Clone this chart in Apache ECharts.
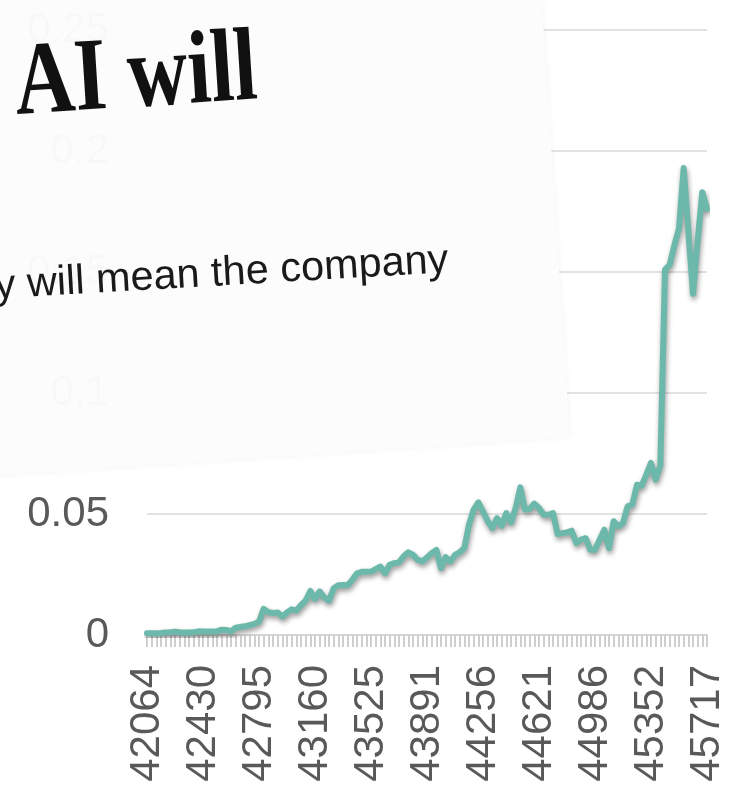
<!DOCTYPE html>
<html>
<head>
<meta charset="utf-8">
<script src="https://cdn.jsdelivr.net/npm/echarts@6/dist/echarts.min.js"></script>
<style>html,body{margin:0;padding:0;background:#fff}#c{width:743px;height:785px}</style>
</head>
<body>
<div id="c"></div>
<script>
// Excel serial dates (first of each month, Mar 2015 - Mar 2025)
var categories = [
42064,42095,42125,42156,42186,42217,42248,42278,42309,42339,
42370,42401,42430,42461,42491,42522,42552,42583,42614,42644,42675,42705,
42736,42767,42795,42826,42856,42887,42917,42948,42979,43009,43040,43070,
43101,43132,43160,43191,43221,43252,43282,43313,43344,43374,43405,43435,
43466,43497,43525,43556,43586,43617,43647,43678,43709,43739,43770,43800,
43831,43862,43891,43922,43952,43983,44013,44044,44075,44105,44136,44166,
44197,44228,44256,44287,44317,44348,44378,44409,44440,44470,44501,44531,
44562,44593,44621,44652,44682,44713,44743,44774,44805,44835,44866,44896,
44927,44958,44986,45017,45047,45078,45108,45139,45170,45200,45231,45261,
45292,45323,45352,45383,45413,45444,45474,45505,45536,45566,45597,45627,
45658,45689,45717
];
var values = [
0.0007,0.0007,0.0007,0.0008,0.0010,0.0011,0.0014,0.0011,0.0010,0.0010,
0.0011,0.0015,0.0014,0.0014,0.0014,0.0015,0.0022,0.0021,0.0015,0.0030,
0.0033,0.0036,0.0041,0.0046,0.0055,0.0108,0.0094,0.0091,0.0093,0.0076,
0.0093,0.0106,0.0101,0.0124,0.0142,0.0182,0.0149,0.0180,0.0155,0.0142,
0.0193,0.0206,0.0207,0.0206,0.0228,0.0255,0.0261,0.0261,0.0262,0.0272,
0.0283,0.0255,0.0290,0.0297,0.0300,0.0325,0.0342,0.0331,0.0311,0.0304,
0.0320,0.0338,0.0352,0.0276,0.0322,0.0304,0.0331,0.0342,0.0359,0.0456,
0.0518,0.0548,0.0511,0.0470,0.0442,0.0483,0.0452,0.0504,0.0465,0.0525,
0.0610,0.0518,0.0521,0.0543,0.0525,0.0497,0.0497,0.0504,0.0417,0.0421,
0.0424,0.0431,0.0380,0.0394,0.0400,0.0352,0.0352,0.0394,0.0435,0.0359,
0.0470,0.0449,0.0463,0.0532,0.0539,0.0621,0.0617,0.0663,0.0711,0.0642,
0.0700,0.1510,0.1530,0.1610,0.1680,0.1930,0.1670,0.1410,0.1630,0.1830,
0.1760
];
var yTicks = {min: 0, max: 0.25, interval: 0.05};
var headline = 'AI will';
var subline = 'y will mean the company';

var chart = echarts.init(document.getElementById('c'), null, {renderer: 'canvas'});
chart.setOption({
  animation: false,
  backgroundColor: '#ffffff',
  grid: {left: 147, right: 36, top: 30, bottom: 150, containLabel: false},
  xAxis: {
    type: 'category',
    data: categories,
    boundaryGap: false,
    axisLine: {show: true, lineStyle: {color: '#d6d6d6', width: 2}},
    axisTick: {show: true, interval: 0, length: 12, lineStyle: {color: '#cfcfcf', width: 2}},
    axisLabel: {interval: 11, rotate: 90, margin: 30, fontSize: 42, color: '#595959', fontFamily: '"Liberation Sans", Arial, sans-serif'},
    splitLine: {show: false}
  },
  yAxis: {
    type: 'value',
    min: yTicks.min, max: yTicks.max, interval: yTicks.interval,
    axisLine: {show: false},
    axisTick: {show: false},
    axisLabel: {margin: 38, fontSize: 42, color: '#595959', fontFamily: '"Liberation Sans", Arial, sans-serif'},
    splitLine: {show: true, lineStyle: {color: '#d9d9d9', width: 1.5}}
  },
  series: [{
    type: 'line',
    data: values,
    showSymbol: false,
    lineStyle: {color: '#6cb9ac', width: 6, join: 'round', cap: 'round',
      shadowColor: 'rgba(0,0,0,0.4)', shadowBlur: 5, shadowOffsetX: 1, shadowOffsetY: 3},
    itemStyle: {color: '#6cb9ac'}
  }],
  graphic: [
    {type: 'polygon', z: 100, silent: true,
     shape: {points: [[-10, -10], [541, -10], [570, 437], [-10, 476]]},
     style: {fill: 'rgba(252,252,252,0.98)', shadowBlur: 6, shadowColor: 'rgba(0,0,0,0.05)'}},
    {type: 'text', z: 101, silent: true, x: 18, y: 139, rotation: 0.064, scaleX: 0.8, scaleY: 1,
     style: {text: headline, fontSize: 104, fontWeight: 'bold', fontFamily: '"Liberation Serif", "DejaVu Serif", serif',
       fill: '#111111', textAlign: 'left', verticalAlign: 'bottom'}},
    {type: 'text', z: 101, silent: true, x: -4, y: 308, rotation: 0.058,
     style: {text: subline, fontSize: 41.5, fontFamily: '"Liberation Sans", Arial, sans-serif',
       fill: '#1a1a1a', textAlign: 'left', verticalAlign: 'bottom'}}
  ]
});
</script>
</body>
</html>
